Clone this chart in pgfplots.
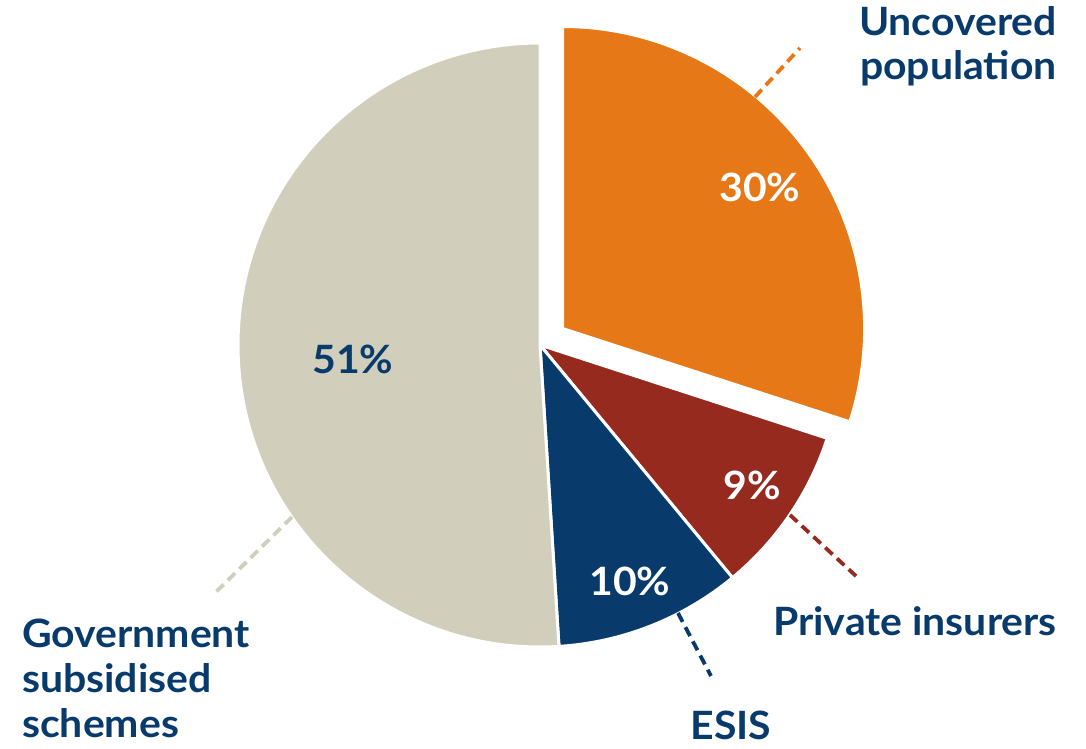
\documentclass[border=0pt]{standalone}
\usepackage{pgfplots}
\pgfplotsset{compat=1.18}
\usepackage{fontspec}
\setmainfont{Lato}[FakeStretch=1.05]
\definecolor{cOr}{HTML}{E67817}
\definecolor{cRd}{HTML}{962A1F}
\definecolor{cBl}{HTML}{083A6B}
\definecolor{cGr}{HTML}{D1CEBB}
\definecolor{cTx}{HTML}{083A6B}
\begin{document}
\begin{tikzpicture}
\begin{axis}[x=1bp,y=1bp,xmin=0,xmax=1086,ymin=0,ymax=749,hide axis,clip=false,scale only axis]
\path (axis cs:0,0) rectangle (axis cs:1086,749);
% shares (percent): Uncovered 30, Private 9, ESIS 10, Government 51
% Uncovered population (exploded)
\fill[cOr,draw=white,line width=3bp] (axis cs:562.6,420.5) -- ++(90:302bp) arc[start angle=90,end angle={90-30*3.6},radius=302bp] -- cycle;
% Private insurers
\fill[cRd,draw=white,line width=3bp] (axis cs:540,404) -- ++({90-30*3.6}:302bp) arc[start angle={90-30*3.6},end angle={90-39*3.6},radius=302bp] -- cycle;
% ESIS
\fill[cBl,draw=white,line width=3bp] (axis cs:540,404) -- ++({90-39*3.6}:302bp) arc[start angle={90-39*3.6},end angle={90-49*3.6},radius=302bp] -- cycle;
% Government subsidised schemes
\fill[cGr,draw=white,line width=3bp] (axis cs:540,404) -- ++({90-49*3.6}:302bp) arc[start angle={90-49*3.6},end angle={90-100*3.6},radius=302bp] -- cycle;
% leader lines
\addplot[cOr,line width=3.8bp,dash pattern=on 10bp off 6bp] coordinates {(755,652) (800,701)};
\addplot[cRd,line width=3.8bp,dash pattern=on 10bp off 6bp] coordinates {(790,234) (857,172)};
\addplot[cBl,line width=3.8bp,dash pattern=on 10bp off 6bp] coordinates {(678,136) (711,73)};
\addplot[cGr,line width=3.8bp,dash pattern=on 10bp off 6bp] coordinates {(292,232) (216,157)};
% labels
\begin{scope}[every node/.style={font=\fontsize{39bp}{45bp}\selectfont\bfseries,inner sep=0pt}]
\node[text=cTx,anchor=base east] at (axis cs:1057,713) {Uncovered};
\node[text=cTx,anchor=base east] at (axis cs:1057,669) {population};
\node[text=cTx,anchor=base east] at (axis cs:1057,113) {Private insurers};
\node[text=cTx,anchor=base] at (axis cs:731,9) {ESIS};
\node[text=cTx,anchor=base west] at (axis cs:22,101) {Government};
\node[text=cTx,anchor=base west] at (axis cs:22,56) {subsidised};
\node[text=cTx,anchor=base west] at (axis cs:22,11) {schemes};
\node[text=cTx,anchor=base] at (axis cs:353,375) {51\%};
\node[text=white,anchor=base] at (axis cs:760,547) {30\%};
\node[text=white,anchor=base] at (axis cs:752,249) {9\%};
\node[text=white,anchor=base] at (axis cs:630,153) {10\%};
\end{scope}
\end{axis}
\end{tikzpicture}
\end{document}
